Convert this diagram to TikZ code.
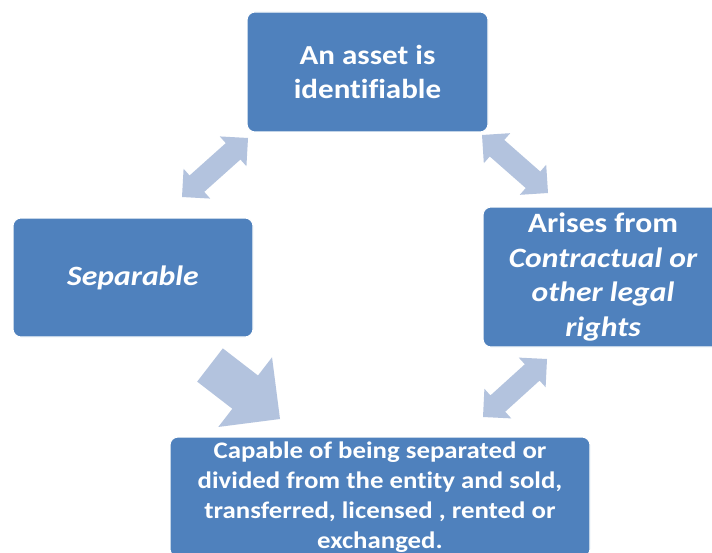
\documentclass[tikz,border=0pt]{standalone}
\usepackage{fontspec}
\setmainfont{Carlito}[FakeStretch=1.13, Ligatures=NoCommon]
\usepackage{xcolor}
\usetikzlibrary{calc}

\definecolor{boxblue}{HTML}{4F81BD}
\definecolor{arrowblue}{HTML}{B3C3DE}

\tikzset{
  box/.style={draw=white, line width=0.8pt, fill=boxblue, rounded corners=6pt,
    text=white, font=\bfseries, align=center, inner sep=0pt},
  arrowfill/.style={fill=arrowblue}
}

\newcommand{\dblarrow}[2]{%
  \fill[arrowfill] (#1)
    -- ($(#1)!15pt!(#2)!15pt!90:(#2)$)
    -- ($(#1)!15pt!(#2)!8.25pt!90:(#2)$)
    -- ($(#2)!15pt!(#1)!8.25pt!-90:(#1)$)
    -- ($(#2)!15pt!(#1)!15pt!-90:(#1)$)
    -- (#2)
    -- ($(#2)!15pt!(#1)!15pt!90:(#1)$)
    -- ($(#2)!15pt!(#1)!8.25pt!90:(#1)$)
    -- ($(#1)!15pt!(#2)!8.25pt!-90:(#2)$)
    -- ($(#1)!15pt!(#2)!15pt!-90:(#2)$)
    -- cycle;}

\newcommand{\bigarrow}[2]{%
  \fill[arrowfill] ($(#1)!15.75pt!90:(#2)$)
    -- ($(#2)!33pt!(#1)!15.75pt!-90:(#1)$)
    -- ($(#2)!33pt!(#1)!33pt!-90:(#1)$)
    -- (#2)
    -- ($(#2)!33pt!(#1)!33pt!90:(#1)$)
    -- ($(#2)!33pt!(#1)!15.75pt!90:(#1)$)
    -- ($(#1)!15.75pt!-90:(#2)$)
    -- cycle;}

\begin{document}
\begin{tikzpicture}[x=0.75pt, y=-0.75pt]
        \clip (0,0) rectangle (712,552);
        \fill[white] (0,0) rectangle (712,552);
        \node[box, minimum width=180.75pt, minimum height=90pt,
          font=\bfseries\fontsize{20.6}{25.5}\selectfont] (asset) at (367.5,72)
          {An asset is\\identifiable};
        \node[box, minimum width=180pt, minimum height=89.25pt,
          font=\bfseries\itshape\fontsize{21}{26}\selectfont] (separable) at (133,277.5)
          {Separable};
        \node[box, minimum width=180pt, minimum height=105pt,
          font=\bfseries\fontsize{21}{26}\selectfont] (legal) at (603,277)
          {Arises from\\\itshape Contractual or\\\itshape other legal\\\itshape rights};
        \node[box, minimum width=315pt, minimum height=90pt,
          font=\bfseries\fontsize{17.8}{22.5}\selectfont] (capable) at (380,497)
          {Capable of being separated or\\divided from the entity and sold,\\transferred, licensed , rented or\\exchanged.};
        \coordinate (tl1) at (182,197);
        \coordinate (tl2) at (248,138);
        \coordinate (tr1) at (482,135);
        \coordinate (tr2) at (548,193);
        \coordinate (br1) at (547,359);
        \coordinate (br2) at (483,417);
        \coordinate (bl1) at (210,365);
        \coordinate (bl2) at (280,419);
        \dblarrow{tl1}{tl2}
        \dblarrow{tr1}{tr2}
        \dblarrow{br1}{br2}
        \bigarrow{bl1}{bl2}
\end{tikzpicture}
\end{document}
